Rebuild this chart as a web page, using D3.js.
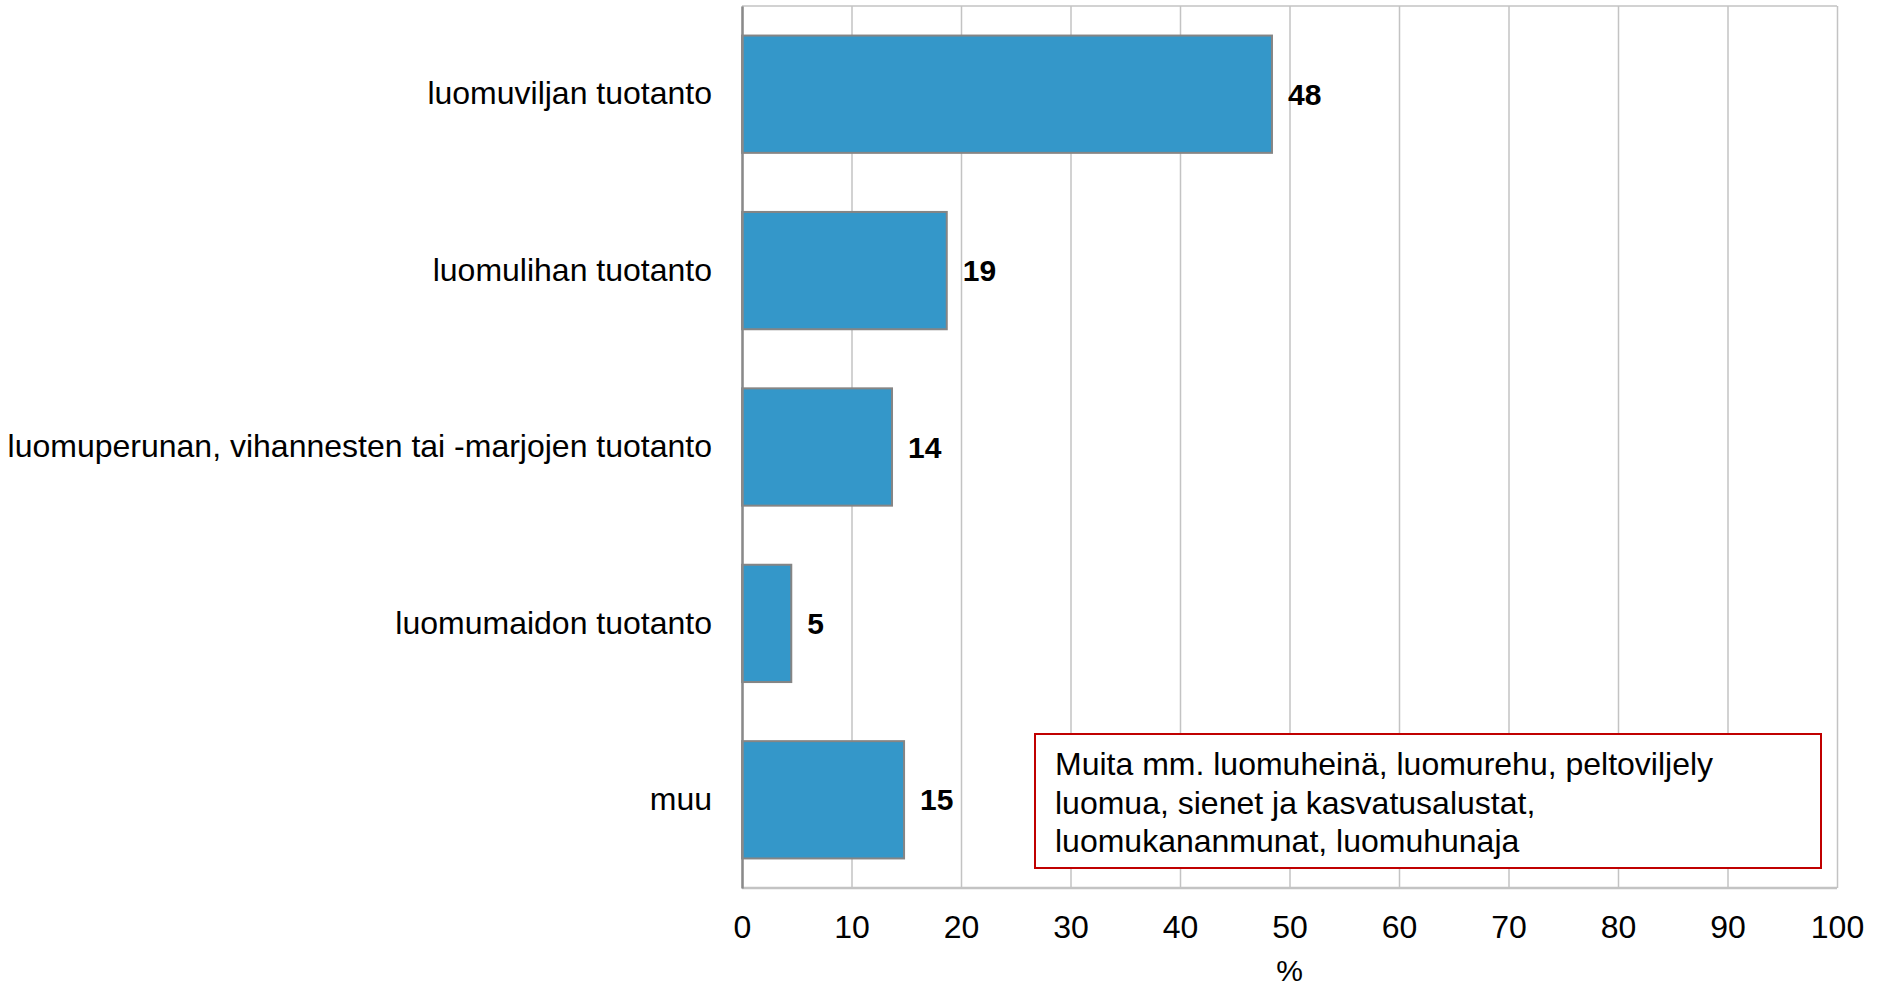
<!DOCTYPE html>
<html>
<head>
<meta charset="utf-8">
<script src="https://d3js.org/d3.v7.min.js"></script>
<style>
  body { margin: 0; background: #fff; }
  svg text { font-family: "Liberation Sans", Arial, sans-serif; fill: #000; }
  .grid line { stroke: #c3c3c3; stroke-width: 1.5; }
  .grid path { display: none; }
  .xaxis text { font-size: 32px; }
  .yaxis text { font-size: 32px; }
  .bar { fill: #3497c9; stroke: #858585; stroke-width: 2; }
  .val { font-size: 30px; font-weight: bold; }
  .note text { font-size: 32px; }
</style>
</head>
<body>
<svg id="chart" width="1889" height="987"></svg>
<script>
// data
var categories = ["luomuviljan tuotanto", "luomulihan tuotanto",
                  "luomuperunan, vihannesten tai -marjojen tuotanto",
                  "luomumaidon tuotanto", "muu"];
var values = [48.4, 18.7, 13.7, 4.5, 14.8];
var labels = ["48", "19", "14", "5", "15"];
var xTicks = [0, 10, 20, 30, 40, 50, 60, 70, 80, 90, 100];
var noteLines = ["Muita mm. luomuheinä, luomurehu, peltoviljely",
                 "luomua, sienet ja kasvatusalustat,",
                 "luomukananmunat, luomuhunaja"];

var svg = d3.select("#chart");
var plotLeft = 742, plotRight = 1837, plotTop = 6, plotBottom = 888;

var x = d3.scaleLinear().domain([0, 100]).range([plotLeft, plotRight]);
var y = d3.scaleBand().domain(categories).range([plotTop, plotBottom])
          .paddingInner(0.335).paddingOuter(0.1675);

// top border
svg.append("line")
   .attr("x1", plotLeft).attr("x2", plotRight).attr("y1", plotTop).attr("y2", plotTop)
   .attr("stroke", "#c3c3c3").attr("stroke-width", 1.5);

// gridlines + tick labels
var gx = svg.append("g")
   .attr("class", "grid xaxis")
   .attr("transform", "translate(0," + plotBottom + ")")
   .call(d3.axisBottom(x).tickValues(xTicks).tickSizeInner(-(plotBottom - plotTop))
         .tickSizeOuter(0).tickPadding(27));

// bottom axis line
svg.append("line")
   .attr("x1", plotLeft).attr("x2", plotRight).attr("y1", plotBottom).attr("y2", plotBottom)
   .attr("stroke", "#c3c3c3").attr("stroke-width", 2.5);

// bars
svg.selectAll(".bar")
   .data(values)
   .enter().append("rect")
   .attr("class", "bar")
   .attr("x", x(0))
   .attr("y", function(d, i) { return y(categories[i]); })
   .attr("width", function(d) { return x(d) - x(0); })
   .attr("height", y.bandwidth());

// value labels
svg.selectAll(".val")
   .data(values)
   .enter().append("text")
   .attr("class", "val")
   .attr("x", function(d) { return x(d) + 16; })
   .attr("y", function(d, i) { return y(categories[i]) + y.bandwidth() / 2; })
   .attr("dy", "0.35em")
   .text(function(d, i) { return labels[i]; });

// category axis
var gy = svg.append("g")
   .attr("class", "yaxis")
   .attr("transform", "translate(" + plotLeft + ",0)")
   .call(d3.axisLeft(y).tickSize(0).tickPadding(30));
gy.select(".domain").attr("stroke", "#8a8a8a").attr("stroke-width", 2.5);

// axis title
svg.append("text")
   .attr("x", (plotLeft + plotRight) / 2)
   .attr("y", 981)
   .attr("text-anchor", "middle")
   .style("font-size", "30px")
   .text("%");

// note box
var note = svg.append("g").attr("class", "note");
note.append("rect")
   .attr("x", 1035).attr("y", 734)
   .attr("width", 786).attr("height", 134)
   .attr("fill", "#fff").attr("stroke", "#c00000").attr("stroke-width", 2);
note.selectAll("text")
   .data(noteLines)
   .enter().append("text")
   .attr("x", 1055)
   .attr("y", function(d, i) { return 775 + i * 38.5; })
   .text(function(d) { return d; });
</script>
</body>
</html>
